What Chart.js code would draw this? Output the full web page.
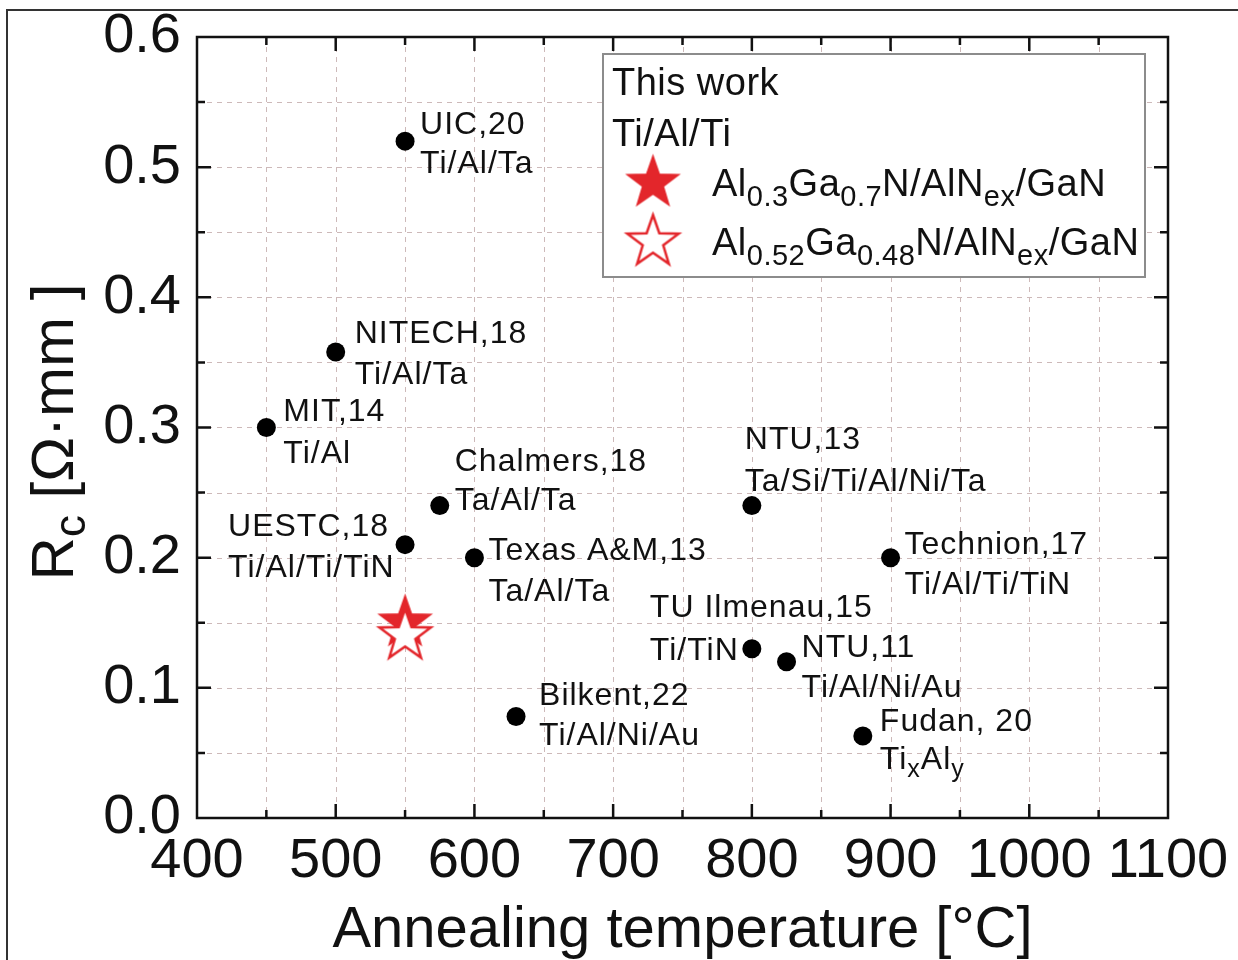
<!DOCTYPE html>
<html>
<head>
<meta charset="utf-8">
<script src="https://cdn.jsdelivr.net/npm/chart.js@4.4.1/dist/chart.umd.min.js"></script>
<style>
  html, body { margin: 0; padding: 0; background: #fff; }
  canvas { display: block; }
</style>
</head>
<body>
<canvas id="myChart" width="1238" height="960"></canvas>
<script>
// Reported contacts: annealing temperature (°C) and Rc (Ω·mm)
var refTemps = [550, 500, 450, 575, 550, 600, 800, 900, 800, 825, 630, 880];
var refRc = [0.52, 0.358, 0.30, 0.24, 0.21, 0.20, 0.24, 0.20, 0.13, 0.12, 0.078, 0.063];
var refGroups = ['UIC,20', 'NITECH,18', 'MIT,14', 'Chalmers,18', 'UESTC,18', 'Texas A&M,13',
  'NTU,13', 'Technion,17', 'TU Ilmenau,15', 'NTU,11', 'Bilkent,22', 'Fudan, 20'];
var refMetals = ['Ti/Al/Ta', 'Ti/Al/Ta', 'Ti/Al', 'Ta/Al/Ta', 'Ti/Al/Ti/TiN', 'Ta/Al/Ta',
  'Ta/Si/Ti/Al/Ni/Ta', 'Ti/Al/Ti/TiN', 'Ti/TiN', 'Ti/Al/Ni/Au', 'Ti/Al/Ni/Au', 'Ti_{x}Al_{y}'];

// This work, Ti/Al/Ti
var workTemps = [550];
var workRcA = [0.15];   // Al0.3Ga0.7N
var workRcB = [0.14];   // Al0.52Ga0.48N

// where each label sits relative to its dot: [dx to text left, dy line 1, dy line 2]
var labelOffsets = [[15, -18, 21], [19, -20, 21], [17, -18, 24], [15, -46, -7], [-177, -20, 21],
  [14, -9, 32], [-7, -68, -26], [14, -15, 25], [-102, -43, 0], [15, -16, 24], [23, -22, 18], [17, -16, 22]];

var FONT = '"Liberation Sans", Arial, Helvetica, sans-serif';
var RED = '#e3262b';

// text with _{...} subscripts, y is the baseline
function drawRich(ctx, str, x, y, size, subSize, subDrop, spacing, align) {
  var parts = str.split(/_\{([^}]*)\}/);
  var w = 0, i;
  ctx.letterSpacing = (spacing || 0) + 'px';
  for (i = 0; i < parts.length; i++) {
    ctx.font = (i % 2 ? subSize : size) + 'px ' + FONT;
    w += ctx.measureText(parts[i]).width;
  }
  if (align === 'center') x -= w / 2;
  ctx.textAlign = 'left';
  ctx.textBaseline = 'alphabetic';
  for (i = 0; i < parts.length; i++) {
    ctx.font = (i % 2 ? subSize : size) + 'px ' + FONT;
    ctx.fillText(parts[i], x, i % 2 ? y + subDrop : y);
    x += ctx.measureText(parts[i]).width;
  }
  ctx.letterSpacing = '0px';
}

function makeStar(fill, stroke, lw) {
  var R = 27, r = R * 0.4;
  var size = Math.ceil(2 * R + 2 * lw + 6);
  var c = document.createElement('canvas');
  c.width = size; c.height = size;
  var g = c.getContext('2d');
  g.beginPath();
  for (var k = 0; k < 10; k++) {
    var a = -Math.PI / 2 + k * Math.PI / 5;
    var rad = k % 2 ? r : R;
    g.lineTo(size / 2 + rad * Math.cos(a), size / 2 + rad * Math.sin(a));
  }
  g.closePath();
  g.fillStyle = fill;
  g.fill();
  g.lineWidth = lw;
  g.lineJoin = 'miter';
  g.strokeStyle = stroke;
  g.stroke();
  return c;
}
var starFilled = makeStar(RED, RED, 1.5);
var starHollow = makeStar('#ffffff', RED, 2.5);

var decor = {
  id: 'decor',
  beforeDraw: function (chart) {
    var ctx = chart.ctx;
    ctx.save();
    ctx.fillStyle = '#fff';
    ctx.fillRect(0, 0, chart.width, chart.height);
    ctx.strokeStyle = '#333';
    ctx.lineWidth = 2;
    ctx.beginPath();
    ctx.moveTo(7, chart.height);
    ctx.lineTo(7, 10);
    ctx.lineTo(chart.width, 10);
    ctx.stroke();
    ctx.restore();
  },
  beforeDatasetsDraw: function (chart) {
    var ctx = chart.ctx, a = chart.chartArea, xs = chart.scales.x, ys = chart.scales.y, v, p;
    ctx.save();
    ctx.strokeStyle = '#cdb9b9';
    ctx.lineWidth = 1;
    ctx.setLineDash([5, 5]);
    for (v = xs.min + 50; v < xs.max; v += 50) {
      p = Math.round(xs.getPixelForValue(v)) + 0.5;
      ctx.beginPath(); ctx.moveTo(p, a.top); ctx.lineTo(p, a.bottom); ctx.stroke();
    }
    for (v = 1; v < 12; v++) {
      p = Math.round(ys.getPixelForValue(v * 0.05)) + 0.5;
      ctx.beginPath(); ctx.moveTo(a.left, p); ctx.lineTo(a.right, p); ctx.stroke();
    }
    ctx.restore();
  },
  afterDatasetsDraw: function (chart) {
    var ctx = chart.ctx, a = chart.chartArea, xs = chart.scales.x, ys = chart.scales.y, v, p, len, i;
    ctx.save();
    // frame and inward ticks on all four sides
    ctx.strokeStyle = '#111';
    ctx.lineWidth = 2.5;
    ctx.strokeRect(a.left, a.top, a.right - a.left, a.bottom - a.top);
    for (v = xs.min + 50; v < xs.max; v += 50) {
      p = xs.getPixelForValue(v);
      len = v % 100 === 0 ? 14 : 8;
      ctx.beginPath();
      ctx.moveTo(p, a.bottom); ctx.lineTo(p, a.bottom - len);
      ctx.moveTo(p, a.top); ctx.lineTo(p, a.top + len);
      ctx.stroke();
    }
    for (i = 1; i < 12; i++) {
      p = ys.getPixelForValue(i * 0.05);
      len = i % 2 === 0 ? 14 : 8;
      ctx.beginPath();
      ctx.moveTo(a.left, p); ctx.lineTo(a.left + len, p);
      ctx.moveTo(a.right, p); ctx.lineTo(a.right - len, p);
      ctx.stroke();
    }

    // point labels
    ctx.fillStyle = '#111';
    var meta = chart.getDatasetMeta(2);
    for (i = 0; i < meta.data.length; i++) {
      var pt = meta.data[i], off = labelOffsets[i];
      drawRich(ctx, refGroups[i], pt.x + off[0], pt.y + off[1] + 11, 32, 25, 8, 1);
      drawRich(ctx, refMetals[i], pt.x + off[0], pt.y + off[2] + 11, 32, 25, 8, 1);
    }

    // legend box
    var lx = 603, ly = 54, lw = 542, lh = 223;
    ctx.fillStyle = '#fff';
    ctx.fillRect(lx, ly, lw, lh);
    ctx.strokeStyle = '#8c8c8c';
    ctx.lineWidth = 2;
    ctx.strokeRect(lx, ly, lw, lh);
    ctx.fillStyle = '#111';
    drawRich(ctx, 'This work', lx + 9, ly + 41, 38, 29, 10, 0.5);
    drawRich(ctx, 'Ti/Al/Ti', lx + 9, ly + 92, 38, 29, 10, 0.5);
    var order = [1, 0];
    for (i = 0; i < order.length; i++) {
      var ds = chart.data.datasets[order[i]];
      var cy = ly + 129 + i * 59;
      var img = ds.pointStyle;
      ctx.drawImage(img, lx + 50 - img.width / 2, cy - img.height / 2);
      drawRich(ctx, ds.label, lx + 109, cy + 13, 38, 29, 10, 0.5);
    }

    // y axis title
    ctx.translate(52, 432);
    ctx.rotate(-Math.PI / 2);
    drawRich(ctx, 'R_{c} [Ω·mm ]', 0, 21, 60, 44, 12, 0, 'center');
    ctx.restore();
  }
};

var ctx = document.getElementById('myChart');
var myChart = new Chart(ctx, {
  type: 'scatter',
  data: {
    datasets: [
      {
        label: 'Al_{0.52}Ga_{0.48}N/AlN_{ex}/GaN',
        data: workTemps.map(function (t, i) { return { x: t, y: workRcB[i] }; }),
        pointStyle: starHollow,
        order: 0
      },
      {
        label: 'Al_{0.3}Ga_{0.7}N/AlN_{ex}/GaN',
        data: workTemps.map(function (t, i) { return { x: t, y: workRcA[i] }; }),
        pointStyle: starFilled,
        order: 1
      },
      {
        label: 'Reported',
        data: refTemps.map(function (t, i) { return { x: t, y: refRc[i] }; }),
        pointRadius: 9.5,
        pointBackgroundColor: '#000',
        pointBorderColor: '#000',
        pointBorderWidth: 0,
        order: 2
      }
    ]
  },
  options: {
    responsive: false,
    animation: false,
    events: [],
    layout: { padding: { top: 37, right: 70, left: 0, bottom: 0 } },
    plugins: {
      legend: { display: false },
      tooltip: { enabled: false }
    },
    scales: {
      x: {
        type: 'linear',
        min: 400,
        max: 1100,
        grid: { display: false, drawTicks: false },
        border: { display: false },
        ticks: {
          stepSize: 100,
          autoSkip: false,
          maxRotation: 0,
          padding: 10,
          color: '#111',
          font: { family: FONT, size: 56 },
          callback: function (v) { return String(v); }
        },
        title: {
          display: true,
          text: 'Annealing temperature [°C]',
          color: '#111',
          font: { family: FONT, size: 58, lineHeight: 1.0 },
          padding: { top: 0, bottom: 0 }
        },
        afterFit: function (s) {
          s.height = 142;
          s.paddingLeft = 0;
          s.paddingRight = 0;
        }
      },
      y: {
        type: 'linear',
        min: 0,
        max: 0.6,
        grid: { display: false, drawTicks: false },
        border: { display: false },
        ticks: {
          stepSize: 0.1,
          padding: 16,
          color: '#111',
          font: { family: FONT, size: 56 },
          callback: function (v) { return v.toFixed(1); }
        },
        afterFit: function (s) {
          s.width = 197;
          s.paddingTop = 0;
          s.paddingBottom = 0;
        }
      }
    }
  },
  plugins: [decor]
});
</script>
</body>
</html>
